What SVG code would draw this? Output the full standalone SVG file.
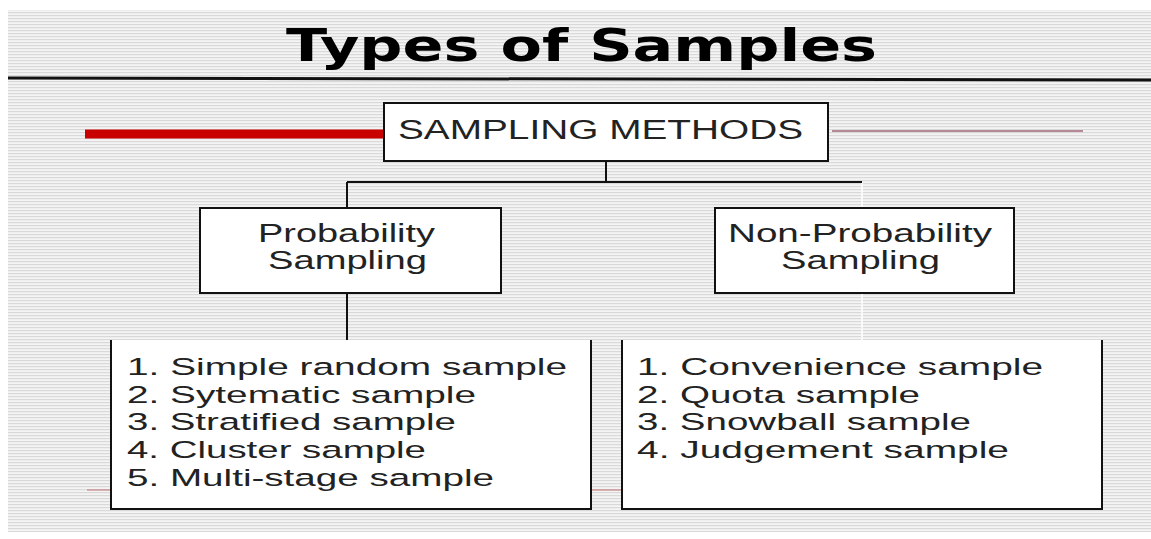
<svg xmlns="http://www.w3.org/2000/svg" width="1151" height="539" viewBox="0 0 1151 539">
  <defs>
    <pattern id="stripes" x="0" y="0" width="8" height="3" patternUnits="userSpaceOnUse">
      <rect x="0" y="0" width="8" height="3" fill="#f4f4f4"/>
      <rect x="0" y="0" width="8" height="1.2" fill="#d9d9d9"/>
    </pattern>
    <style>
      .box { fill: #ffffff; stroke: #111111; stroke-width: 2; }
      .open { fill: none; stroke: #111111; stroke-width: 2; }
      .conn { fill: none; stroke: #111111; stroke-width: 2; }
      .lbl { font-family: "Liberation Sans", Arial, sans-serif; fill: #222222; }
      .item { font-family: "Liberation Sans", Arial, sans-serif; fill: #222222; font-size: 24.5px; }
      .title { font-family: "DejaVu Sans", Verdana, sans-serif; font-weight: bold; fill: #000000; }
    </style>
  </defs>

  <rect x="0" y="0" width="1151" height="539" fill="#ffffff"/>
  <rect x="8" y="10" width="1143" height="522" fill="url(#stripes)"/>

  <g id="title">
    <text class="title" x="286" y="61" font-size="44" textLength="591" lengthAdjust="spacingAndGlyphs">Types of Samples</text>
    <path d="M8 78 L1151 80" stroke="#111111" stroke-width="3" fill="none"/>
  </g>

  <g id="decor">
    <line x1="85" y1="134" x2="385" y2="134" stroke="#c80000" stroke-width="9"/>
    <line x1="832" y1="131" x2="1083" y2="131" stroke="#b48a94" stroke-width="2"/>
    <line x1="87" y1="490" x2="622" y2="490" stroke="#c07070" stroke-width="1.2"/>
  </g>

  <g id="connectors">
    <line class="conn" x1="606" y1="161" x2="606" y2="182"/>
    <line class="conn" x1="347" y1="182" x2="862" y2="182"/>
    <line class="conn" x1="347" y1="182" x2="347" y2="208"/>
    <line class="conn" x1="347" y1="293" x2="347" y2="340"/>
    <line x1="862" y1="183" x2="862" y2="340" stroke="#ffffff" stroke-width="2" opacity="0.8"/>
  </g>

  <g id="sampling-methods">
    <rect class="box" x="384" y="103" width="444" height="58"/>
    <text class="lbl" x="398" y="139" font-size="27" textLength="405" lengthAdjust="spacingAndGlyphs">SAMPLING METHODS</text>
  </g>

  <g id="probability">
    <rect class="box" x="200" y="208" width="301" height="85"/>
    <text class="lbl" x="258" y="242" font-size="25" textLength="177" lengthAdjust="spacingAndGlyphs">Probability</text>
    <text class="lbl" x="268" y="269" font-size="25" textLength="159" lengthAdjust="spacingAndGlyphs">Sampling</text>
  </g>

  <g id="non-probability">
    <rect class="box" x="715" y="208" width="299" height="85"/>
    <text class="lbl" x="728" y="242" font-size="25" textLength="264" lengthAdjust="spacingAndGlyphs">Non-Probability</text>
    <text class="lbl" x="781" y="269" font-size="25" textLength="159" lengthAdjust="spacingAndGlyphs">Sampling</text>
  </g>

  <g id="probability-list">
    <rect x="111" y="340" width="480" height="169" fill="#ffffff"/>
    <path class="open" d="M111 340 V509 H591 V340"/>
    <text class="item" x="127" y="375" textLength="440" lengthAdjust="spacingAndGlyphs">1. Simple random sample</text>
    <text class="item" x="127" y="403" textLength="349" lengthAdjust="spacingAndGlyphs">2. Sytematic sample</text>
    <text class="item" x="127" y="430" textLength="329" lengthAdjust="spacingAndGlyphs">3. Stratified sample</text>
    <text class="item" x="127" y="458" textLength="299" lengthAdjust="spacingAndGlyphs">4. Cluster sample</text>
    <text class="item" x="127" y="486" textLength="367" lengthAdjust="spacingAndGlyphs">5. Multi-stage sample</text>
  </g>

  <g id="non-probability-list">
    <rect x="622" y="340" width="480" height="169" fill="#ffffff"/>
    <path class="open" d="M622 340 V509 H1102 V340"/>
    <text class="item" x="637" y="375" textLength="406" lengthAdjust="spacingAndGlyphs">1. Convenience sample</text>
    <text class="item" x="637" y="403" textLength="283" lengthAdjust="spacingAndGlyphs">2. Quota sample</text>
    <text class="item" x="637" y="430" textLength="334" lengthAdjust="spacingAndGlyphs">3. Snowball sample</text>
    <text class="item" x="637" y="458" textLength="372" lengthAdjust="spacingAndGlyphs">4. Judgement sample</text>
  </g>
</svg>
